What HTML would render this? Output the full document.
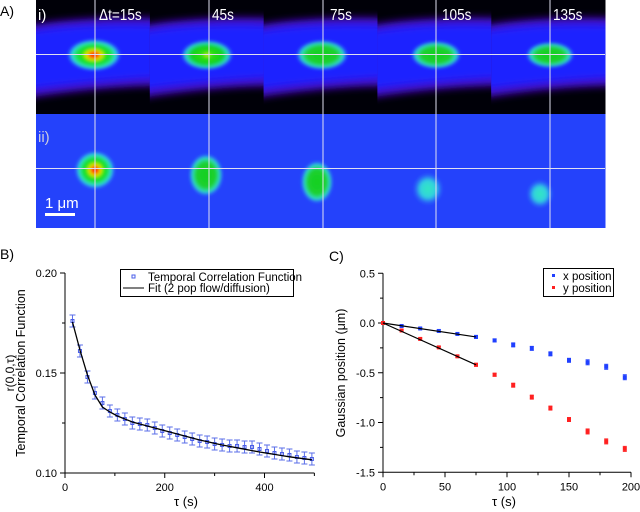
<!DOCTYPE html>
<html><head><meta charset="utf-8"><style>
body{margin:0;background:#fff;}
svg{display:block;font-family:"Liberation Sans",Arial,sans-serif;}
</style></head><body>
<svg id="fig" width="640" height="512" viewBox="0 0 640 512">
<defs>
<filter id="blur4" x="-20%" y="-30%" width="140%" height="160%"><feGaussianBlur stdDeviation="4"/></filter>
<filter id="blur2" x="-30%" y="-30%" width="160%" height="160%"><feGaussianBlur stdDeviation="1.5"/></filter>
<radialGradient id="hot"><stop offset="0" stop-color="#ff1010"/><stop offset="0.16" stop-color="#ff3000"/><stop offset="0.28" stop-color="#f0f000"/><stop offset="0.45" stop-color="#10e010"/><stop offset="0.66" stop-color="#20e050"/><stop offset="0.82" stop-color="#30e0e0"/><stop offset="1" stop-color="#3090ff" stop-opacity="0"/></radialGradient>
<radialGradient id="warm"><stop offset="0" stop-color="#f0f020"/><stop offset="0.18" stop-color="#30e010"/><stop offset="0.62" stop-color="#10d020"/><stop offset="0.82" stop-color="#30e0d0"/><stop offset="1" stop-color="#3090ff" stop-opacity="0"/></radialGradient>
<radialGradient id="grn"><stop offset="0" stop-color="#10d020"/><stop offset="0.6" stop-color="#20d030"/><stop offset="0.82" stop-color="#30e0d0"/><stop offset="1" stop-color="#3090ff" stop-opacity="0"/></radialGradient>
<radialGradient id="cyan"><stop offset="0" stop-color="#30e8c0"/><stop offset="0.55" stop-color="#30d0e0"/><stop offset="1" stop-color="#3080ff" stop-opacity="0"/></radialGradient>
</defs>
<g id="panelA"></g>
<g id="panelB"></g>
<g id="panelC"></g>
</svg>
<script>
const NS='http://www.w3.org/2000/svg';
function mk(p,t,a,txt){const e=document.createElementNS(NS,t);for(const k in a)e.setAttribute(k,a[k]);if(txt!==undefined)e.textContent=txt;p.appendChild(e);return e;}

// ---------- Panel A ----------
const A=document.getElementById('panelA');
const defs=document.querySelector('defs');
const frameLabels=['\u0394t=15s','45s','75s','105s','135s'];
const labelX=[99,212,330,442,553];
const vls=[95,209,323,436,550];
const topBlobs=[[94,55,27,16,'hot'],[207,55,26,15,'warm'],[322,55,26,15,'grn'],[436,55,25,14,'grn'],[550,55,24,13,'grn']];
const botBlobs=[[95,170,20,19,'hot'],[206,175,17,21,'grn'],[317,182,16,21,'grn'],[428,189,15,16,'cyan'],[540,194,13,14,'cyan']];
const lab=mk(A,'text',{x:0,y:16,'font-size':14,fill:'#000'},'A)');

const FW=113.8;
for(let i=0;i<5;i++){
  const x0=36+i*FW;
  const cp=mk(defs,'clipPath',{id:'cf'+i});mk(cp,'rect',{x:x0,y:0,width:FW+0.5,height:228});
  const g=mk(A,'g',{'clip-path':`url(#cf${i})`});
  
  mk(g,'rect',{x:x0,y:0,width:FW+1,height:114,fill:'#000008'});
  mk(g,'path',{d:`M${x0-10} 26 Q${x0+40} 16 ${x0+FW+10} 18 L${x0+FW+10} 86 Q${x0+70} 86 ${x0-10} 98 Z`,fill:'#4a10c8',filter:'url(#blur4)'});
  mk(g,'path',{d:`M${x0-10} 32 Q${x0+40} 22 ${x0+FW+10} 25 L${x0+FW+10} 78 Q${x0+70} 80 ${x0-10} 90 Z`,fill:'#1c24ff',filter:'url(#blur4)'});
  mk(g,'rect',{x:x0,y:114,width:FW+1,height:114,fill:'#2442fb'});
  const t=topBlobs[i];
  const b1=mk(g,'ellipse',{cx:t[0],cy:t[1],rx:t[2],ry:t[3],fill:`url(#${t[4]})`,filter:'url(#blur2)'});
  
  const b=botBlobs[i];
  const b2=mk(g,'ellipse',{cx:b[0],cy:b[1],rx:b[2],ry:b[3],fill:`url(#${b[4]})`,filter:'url(#blur2)'});
  
}
vls.forEach((x,i)=>{mk(A,'line',{x1:x,y1:0,x2:x,y2:228,stroke:'#e0e0f0','stroke-width':1});
  const tl=mk(A,'text',{x:labelX[i],y:20,'font-size':16,fill:'#fff',transform:`translate(${labelX[i]*0.15},0) scale(0.85,1)`},frameLabels[i]);
  });
mk(A,'line',{x1:36,y1:54.5,x2:605,y2:54.5,stroke:'#e0e0f0','stroke-width':1});
mk(A,'line',{x1:36,y1:168.5,x2:605,y2:168.5,stroke:'#e0e0f0','stroke-width':1});
mk(A,'text',{x:38,y:20,'font-size':15,fill:'#fff'},'i)');
mk(A,'text',{x:38,y:142,'font-size':15,fill:'#ccd'},'ii)');
mk(A,'text',{x:45,y:208,'font-size':15,fill:'#fff'},'1 \u03bcm');
const sb=mk(A,'rect',{x:45,y:213,width:30,height:3,fill:'#fff'});


// ---------- Panel B data ----------
const tauB=[15,30,45,60,75,90,105,120,135,150,165,180,195,210,225,240,255,270,285,300,315,330,345,360,375,390,405,420,435,450,465,480,495];
const corrB=[0.176,0.161,0.148,0.140,0.135,0.131,0.129,0.127,0.125,0.1245,0.124,0.1225,0.121,0.120,0.119,0.118,0.117,0.116,0.1155,0.1145,0.114,0.1135,0.1135,0.113,0.113,0.112,0.111,0.110,0.1095,0.109,0.108,0.1075,0.107];
const errB=[0.003,0.003,0.003,0.003,0.003,0.003,0.003,0.003,0.003,0.003,0.003,0.003,0.003,0.003,0.003,0.003,0.003,0.003,0.003,0.003,0.003,0.003,0.003,0.003,0.003,0.003,0.003,0.003,0.003,0.003,0.003,0.003,0.003];
const fitB=[0.1755,0.1615,0.149,0.139,0.133,0.1305,0.1285,0.127,0.1255,0.1245,0.1235,0.1225,0.1215,0.1205,0.1195,0.1185,0.1175,0.1165,0.1157,0.1148,0.114,0.1133,0.1126,0.1119,0.1112,0.1105,0.1099,0.1093,0.1087,0.1081,0.1076,0.1071,0.1066];
const xTicksB=[0,200,400];
const yTicksB=[0.10,0.15,0.20];
// ---------- Panel C data ----------
const tauC=[0,15,30,45,60,75,90,105,120,135,150,165,180,195];
const xPos=[0,-0.03,-0.055,-0.08,-0.11,-0.14,-0.175,-0.22,-0.255,-0.31,-0.375,-0.395,-0.44,-0.545];
const yPos=[0,-0.075,-0.16,-0.245,-0.335,-0.42,-0.52,-0.625,-0.745,-0.855,-0.97,-1.09,-1.19,-1.265];
const xErr=[0,0.01,0.01,0.01,0.01,0.015,0.015,0.02,0.02,0.02,0.02,0.025,0.025,0.025];
const fitXC=[0,-0.14];
const fitYC=[0,-0.42];
const fitTC=[0,75];
const xTicksC=[0,50,100,150,200];
const yTicksC=[0.5,0.0,-0.5,-1.0,-1.5];

function axes(G,sx,sy,xr,yr,xt,ytk,xminor,yminor,fmt){
  const [x0,x1]=xr,[y0,y1]=yr;
  mk(G,'line',{x1:sx(x0),y1:sy(y0),x2:sx(x1),y2:sy(y0),stroke:'#000'});
  mk(G,'line',{x1:sx(x0),y1:sy(y0),x2:sx(x0),y2:sy(y1),stroke:'#000'});
  xminor.forEach(v=>mk(G,'line',{x1:sx(v),y1:sy(y0),x2:sx(v),y2:sy(y0)+3,stroke:'#000'}));
  yminor.forEach(v=>mk(G,'line',{x1:sx(x0),y1:sy(v),x2:sx(x0)-3,y2:sy(v),stroke:'#000'}));
  xt.forEach(v=>{mk(G,'line',{x1:sx(v),y1:sy(y0),x2:sx(v),y2:sy(y0)+5,stroke:'#000'});
    const t=mk(G,'text',{x:sx(v),y:sy(y0)+18,'font-size':11,'text-anchor':'middle'},String(v));
    });
  ytk.forEach(v=>{mk(G,'line',{x1:sx(x0),y1:sy(v),x2:sx(x0)-5,y2:sy(v),stroke:'#000'});
    const t=mk(G,'text',{x:sx(x0)-8,y:sy(v)+4,'font-size':11,'text-anchor':'end'},fmt(v));
    });
}

// ---------- Panel B ----------
const B=document.getElementById('panelB');
const sxB=v=>65+v*(264.5-65)/400, syB=v=>473-(v-0.10)*(200/0.1);
const lb=mk(B,'text',{x:0,y:259,'font-size':14},'B)');

axes(B,sxB,syB,[0,500],[0.10,0.20],xTicksB,yTicksB,[100,300,500],[0.125,0.175],v=>v.toFixed(2));
tauB.forEach((t,i)=>{const x=sxB(t),yt=syB(corrB[i]+errB[i]),yb=syB(corrB[i]-errB[i]);
  const g=mk(B,'g',{stroke:'#5a6ee8','stroke-width':1});
  
  mk(g,'line',{x1:x,y1:yt,x2:x,y2:yb});mk(g,'line',{x1:x-3,y1:yt,x2:x+3,y2:yt});mk(g,'line',{x1:x-3,y1:yb,x2:x+3,y2:yb});
  const p=mk(B,'rect',{x:x-1.5,y:syB(corrB[i])-1.5,width:3,height:3,fill:'none',stroke:'#4a5ee8','stroke-width':1});
  });
const fl=mk(B,'path',{d:tauB.map((t,i)=>(i?'L':'M')+sxB(t)+' '+syB(fitB[i])).join(''),fill:'none',stroke:'#000','stroke-width':1.3});

const lgB=mk(B,'g',{});
mk(lgB,'rect',{x:120.5,y:269.5,width:173,height:27,fill:'#fff',stroke:'#000'});
mk(lgB,'rect',{x:132,y:275,width:3,height:3,fill:'none',stroke:'#4a5ee8'});
mk(lgB,'text',{x:148,y:281,'font-size':11.5},'Temporal Correlation Function');
mk(lgB,'line',{x1:123,y1:288,x2:144,y2:288,stroke:'#000'});
mk(lgB,'text',{x:148,y:292,'font-size':11.5},'Fit (2 pop flow/diffusion)');
const yb1=mk(B,'text',{x:0,y:0,'font-size':12,'text-anchor':'middle',transform:'translate(14,373) rotate(-90)'},'r(0,0,\u03c4)');

mk(B,'text',{x:0,y:0,'font-size':12.5,'text-anchor':'middle',transform:'translate(25,373) rotate(-90)'},'Temporal Correlation Function');
const xb=mk(B,'text',{x:186,y:506,'font-size':13,'text-anchor':'middle'},'\u03c4 (s)');


// ---------- Panel C ----------
const C=document.getElementById('panelC');
const sxC=v=>383+v*(631-383)/200, syC=v=>323-v*(199/2);
const lc=mk(C,'text',{x:329,y:261,'font-size':14},'C)');

axes(C,sxC,syC,[0,200],[-1.5,0.5],xTicksC,yTicksC,[25,75,125,175],[0.25,-0.25,-0.75,-1.25],v=>v.toFixed(1));
tauC.forEach((t,i)=>{
  [[xPos,'#2040ff','x-position-point'],[yPos,'#ff2020','y-position-point']].forEach(([arr,col,nm])=>{
    const x=sxC(t),y=syC(arr[i]),e=xErr[i]*99.5;
    if(e>0){mk(C,'line',{x1:x,y1:y-e,x2:x,y2:y+e,stroke:col});mk(C,'line',{x1:x-2,y1:y-e,x2:x+2,y2:y-e,stroke:col});mk(C,'line',{x1:x-2,y1:y+e,x2:x+2,y2:y+e,stroke:col});}
    const p=mk(C,'rect',{x:x-2,y:y-2,width:4,height:4,fill:col});
    
  });
});
[fitXC,fitYC].forEach((f,k)=>{const l=mk(C,'line',{x1:sxC(fitTC[0]),y1:syC(f[0]),x2:sxC(fitTC[1]),y2:syC(f[1]),stroke:'#000','stroke-width':1.2});
  });
const lgC=mk(C,'g',{});
mk(lgC,'rect',{x:543.5,y:268.5,width:70,height:28,fill:'#fff',stroke:'#000'});
mk(lgC,'rect',{x:552,y:274,width:3,height:3,fill:'#2040ff'});
mk(lgC,'text',{x:563,y:280,'font-size':11.5},'x position');
mk(lgC,'rect',{x:552,y:286,width:3,height:3,fill:'#ff2020'});
mk(lgC,'text',{x:563,y:292,'font-size':11.5},'y position');
const yc=mk(C,'text',{x:0,y:0,'font-size':12.5,'text-anchor':'middle',transform:'translate(345,373) rotate(-90)'},'Gaussian position (\u03bcm)');

const xc=mk(C,'text',{x:504,y:506,'font-size':13,'text-anchor':'middle'},'\u03c4 (s)');

</script>
</body></html>
